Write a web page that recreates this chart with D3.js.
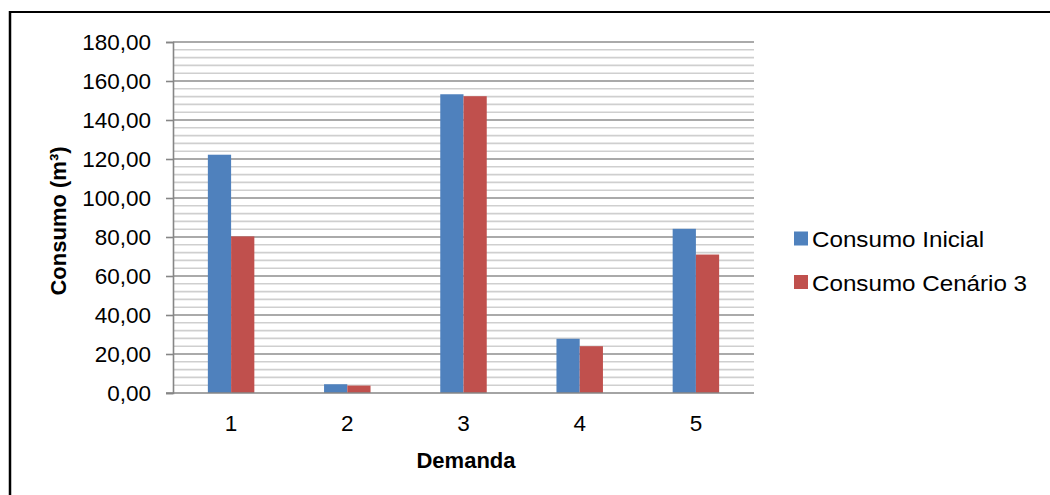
<!DOCTYPE html>
<html>
<head>
<meta charset="utf-8">
<script src="https://cdn.jsdelivr.net/npm/d3@7"></script>
<style>
  html, body { margin: 0; padding: 0; background: #fff; }
  svg { display: block; }
  text { font-family: "Liberation Sans", Arial, sans-serif; }
</style>
</head>
<body>
<svg id="chart" width="1050" height="495"></svg>
<script>
// Demand categories and consumption per scenario (m³)
const categories = ["1", "2", "3", "4", "5"];
const seriesNames = ["Consumo Inicial", "Consumo Cenário 3"];
const consumoInicial = [122.2, 4.5, 153.2, 27.8, 84.2];
const consumoCenario3 = [80.3, 3.8, 152.2, 24.0, 71.0];
const yTicks = [0, 20, 40, 60, 80, 100, 120, 140, 160, 180];
const colors = ["#4F81BD", "#C0504D"];

const svg = d3.select("#chart");
const W = 1050, H = 495;
const plot = { left: 173, right: 754, top: 42, bottom: 393 };

// Outer frame (top and left edges)
svg.append("line").attr("x1", 9).attr("x2", W).attr("y1", 12).attr("y2", 12)
  .attr("stroke", "#000").attr("stroke-width", 2);
svg.append("line").attr("x1", 10).attr("x2", 10).attr("y1", 11).attr("y2", H)
  .attr("stroke", "#000").attr("stroke-width", 2.5);

const y = d3.scaleLinear().domain([0, 180]).range([plot.bottom, plot.top]);
const x0 = d3.scaleBand().domain(categories).range([plot.left, plot.right]).padding(0);
const x1 = d3.scaleBand().domain(seriesNames).range([0, x0.bandwidth()])
  .paddingInner(0).paddingOuter(1.5);

const locale = d3.formatLocale({ decimal: ",", thousands: ".", grouping: [3], currency: ["R$", ""] });
const fmt = locale.format(".2f");

// Minor gridlines every 4 units
const minor = d3.range(0, 181, 4).filter(v => v % 20 !== 0);
svg.append("g").selectAll("line").data(minor).join("line")
  .attr("x1", plot.left).attr("x2", plot.right)
  .attr("y1", d => y(d)).attr("y2", d => y(d))
  .attr("stroke", "#cfcfcf").attr("stroke-width", 1.6);

// Major gridlines
svg.append("g").selectAll("line").data(yTicks.filter(v => v > 0)).join("line")
  .attr("x1", plot.left).attr("x2", plot.right)
  .attr("y1", d => y(d)).attr("y2", d => y(d))
  .attr("stroke", "#8e8e8e").attr("stroke-width", 1.6);

// Bars
const data = categories.map((c, i) => ({ cat: c, vals: [consumoInicial[i], consumoCenario3[i]] }));
const groups = svg.append("g").selectAll("g").data(data).join("g")
  .attr("transform", d => `translate(${x0(d.cat)},0)`);
groups.selectAll("rect").data(d => d.vals.map((v, j) => ({ name: seriesNames[j], v, j })))
  .join("rect")
  .attr("x", d => x1(d.name))
  .attr("width", x1.bandwidth())
  .attr("y", d => y(d.v))
  .attr("height", d => y(0) - y(d.v))
  .attr("fill", d => colors[d.j]);

// Y axis
const yAxis = svg.append("g").attr("transform", `translate(${plot.left},0)`)
  .call(d3.axisLeft(y).tickValues(yTicks).tickFormat(fmt).tickSize(7).tickPadding(15));
yAxis.select(".domain").attr("stroke", "#868686").attr("stroke-width", 1.6);
yAxis.selectAll(".tick line").attr("stroke", "#868686").attr("stroke-width", 1.6);
yAxis.selectAll(".tick text").attr("font-size", 22.5).attr("fill", "#000")
  .attr("font-family", "Liberation Sans, Arial, sans-serif");

// X axis
const xAxis = svg.append("g").attr("transform", `translate(0,${plot.bottom})`)
  .call(d3.axisBottom(x0).tickSize(0).tickPadding(22));
xAxis.select(".domain").attr("d", `M${plot.left - 7},0H${plot.right}`)
  .attr("stroke", "#868686").attr("stroke-width", 1.6);
xAxis.selectAll(".tick text").attr("font-size", 22.5).attr("fill", "#000")
  .attr("font-family", "Liberation Sans, Arial, sans-serif");

// Axis titles
svg.append("text").attr("x", 466).attr("y", 468)
  .attr("text-anchor", "middle").attr("font-weight", "bold").attr("font-size", 22)
  .text("Demanda");
svg.append("text").attr("transform", "translate(66,221) rotate(-90)")
  .attr("text-anchor", "middle").attr("font-weight", "bold").attr("font-size", 22)
  .text("Consumo (m³)");

// Legend
const legend = svg.append("g").attr("transform", "translate(794,0)");
const legendRows = [231.5, 275];
seriesNames.forEach((n, i) => {
  legend.append("rect").attr("x", 0).attr("y", legendRows[i]).attr("width", 14).attr("height", 14)
    .attr("fill", colors[i]);
  legend.append("text")
    .attr("transform", `translate(18,${legendRows[i] + 15.5}) scale(1.1,1)`)
    .attr("font-size", 22).attr("fill", "#000")
    .text(n);
});
</script>
</body>
</html>
